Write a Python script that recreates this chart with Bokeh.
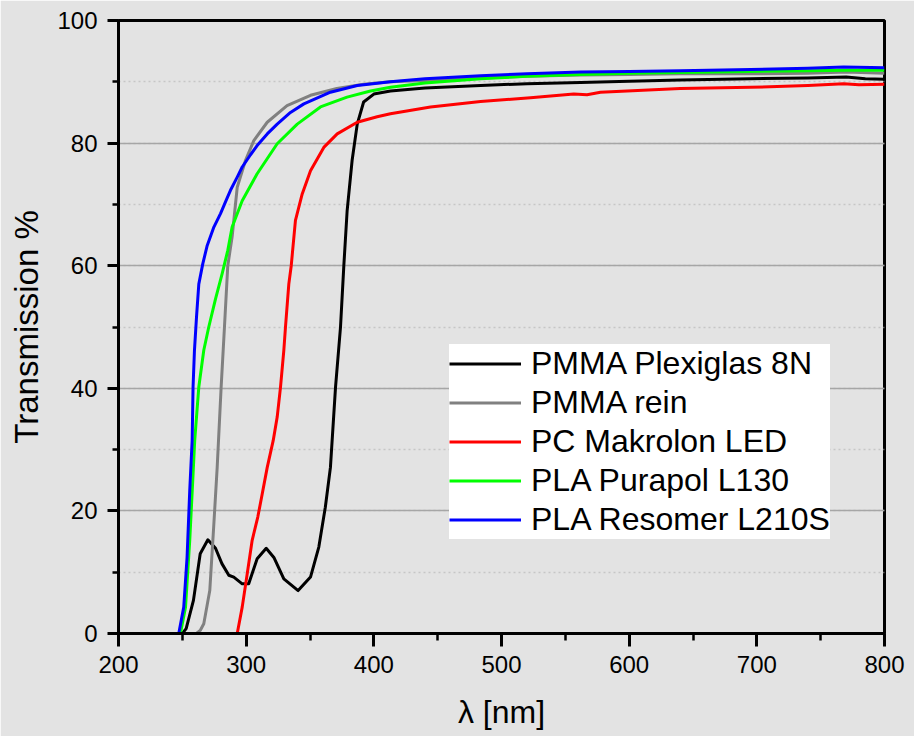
from bokeh.plotting import figure
from bokeh.models import Legend, LegendItem, SingleIntervalTicker, Range1d
from bokeh.embed import file_html
from bokeh.resources import INLINE

# ---- data ----
pmma8n_x = [200, 250, 253, 258.7, 264, 270, 276, 281, 286.4, 290.3, 296.9, 302, 308.6, 315.7,
            321.7, 329.5, 340.7, 350.4, 356.9, 362, 366, 370, 373.9, 376.5, 379.1, 383, 387,
            392, 400, 413, 440, 483.6, 520, 562, 600, 640, 695, 740, 770, 785, 800]
pmma8n_y = [0, 0, 0.8, 5.4, 13, 15.3, 13.9, 11.4, 9.5, 9.2, 8.1, 8.1, 12.2, 13.9,
            12.4, 8.9, 7.0, 9.2, 14.1, 20.6, 27.1, 40.2, 50, 60, 69, 77.2, 83.1,
            86.7, 88, 88.5, 89.0, 89.4, 89.7, 89.9, 90.1, 90.3, 90.5, 90.6, 90.8, 90.5, 90.4]

pmmarein_x = [200, 261, 264, 266.8, 271.5, 274.7, 277.3, 280.4, 283, 285.6, 289, 293, 299.5,
              306, 316.5, 332, 350.4, 371, 392, 413, 450, 483.6, 520, 562, 600, 640, 695,
              740, 770, 800]
pmmarein_y = [0, 0, 0.5, 1.6, 7, 17.9, 27.1, 40.2, 50, 60, 64.7, 72.8, 77.2,
              80.4, 83.4, 86.1, 87.8, 88.9, 89.6, 90.0, 90.3, 90.6, 90.9, 91.1, 91.2, 91.3, 91.3,
              91.4, 91.6, 91.4]

pc_x = [200, 293, 296.9, 300.8, 304.7, 309.1, 312.6, 316.5, 321.2, 324.3, 326.9, 329.5, 330.8,
        333.4, 335.3, 338.6, 343.9, 350.4, 360.8, 371.3, 387, 402.6, 413, 444.4, 483.6, 522.7,
        556.6, 567, 577.5, 640, 695, 740, 768, 780, 800]
pc_y = [0, 0, 4.3, 9.7, 15.2, 19, 22.8, 27.1, 31.5, 35.3, 40.2, 46.2, 50,
        57, 60, 67.4, 71.7, 75.5, 79.3, 81.5, 83.4, 84.3, 84.8, 85.9, 86.8, 87.4,
        88.0, 87.9, 88.3, 88.9, 89.1, 89.4, 89.7, 89.5, 89.6]

pla130_x = [200, 248.5, 252.5, 255.8, 258.4, 259.7, 262.9, 266.8, 270.7, 276, 281.2, 285.6, 289,
            296.9, 308.6, 324.3, 340, 358.2, 379, 397.4, 413, 440, 483.6, 520, 562, 600, 640,
            695, 740, 770, 800]
pla130_y = [0, 0, 4.3, 15.2, 26, 31.5, 40.2, 46.2, 50, 54.6, 58.7, 62.5, 66.3,
            70.6, 75, 79.9, 83.1, 85.9, 87.5, 88.5, 89.1, 89.8, 90.5, 90.9, 91.2, 91.4, 91.5,
            91.7, 91.8, 91.9, 91.9]

pla210_x = [200, 247.2, 251.1, 253.7, 255.8, 257.7, 258.4, 259.5, 261.1, 262.9, 266, 269.5, 274.7,
            279.9, 283.8, 287.7, 292.9, 296.9, 303.4, 308.6, 316.5, 324.3, 334.7, 345.2, 366, 387,
            413, 440, 483.6, 520, 562, 600, 640, 695, 740, 768, 800]
pla210_y = [0, 0, 4.3, 12.4, 23.3, 31.5, 40.2, 46.2, 51.6, 57, 60.3, 63.3, 66.3,
            68.5, 70.4, 72.3, 74.4, 76.1, 78.1, 79.6, 81.5, 83.1, 85.0, 86.4, 88.3, 89.4,
            90.0, 90.5, 91.0, 91.3, 91.6, 91.7, 91.8, 92.0, 92.2, 92.4, 92.3]

names = ["PMMA Plexiglas 8N", "PMMA rein", "PC Makrolon LED", "PLA Purapol L130", "PLA Resomer L210S"]
colors = ["#000000", "#808080", "#ff0000", "#00ff00", "#0000ff"]
series = [(pmma8n_x, pmma8n_y), (pmmarein_x, pmmarein_y), (pc_x, pc_y),
          (pla130_x, pla130_y), (pla210_x, pla210_y)]

x_title = "λ [nm]"
y_title = "Transmission %"

BG = "#e3e3e3"
FONT = "Liberation Sans"

p = figure(width=914, height=736, output_backend="svg", toolbar_location=None,
           x_range=Range1d(200, 800), y_range=Range1d(0, 100),
           min_border_left=118, min_border_right=30, min_border_top=20, min_border_bottom=103,
           x_axis_label=x_title, y_axis_label=y_title)
p.background_fill_color = BG
p.border_fill_color = BG
p.outline_line_color = "black"
p.outline_line_width = 3

p.xaxis.ticker = SingleIntervalTicker(interval=100, num_minor_ticks=2)
p.yaxis.ticker = SingleIntervalTicker(interval=20, num_minor_ticks=2)

for ax in (p.xaxis[0], p.yaxis[0]):
    ax.axis_line_width = 3
    ax.axis_line_color = "black"
    ax.major_tick_line_width = 3
    ax.minor_tick_line_width = 2.5
    ax.major_tick_line_color = "black"
    ax.minor_tick_line_color = "black"
    ax.major_tick_in = 0
    ax.minor_tick_in = 0
    ax.major_label_text_font = FONT
    ax.major_label_text_font_size = "24px"
    ax.major_label_text_color = "black"
    ax.axis_label_text_font = FONT
    ax.axis_label_text_font_size = "33px"
    ax.axis_label_text_font_style = "normal"
    ax.axis_label_text_color = "black"

p.xaxis.axis_label_text_font_size = "32px"
p.xaxis.major_tick_out = 13
p.xaxis.minor_tick_out = 7
p.xaxis.major_label_standoff = 9
p.xaxis.axis_label_standoff = 18
p.yaxis.major_tick_out = 11
p.yaxis.minor_tick_out = 6
p.yaxis.major_label_standoff = 10
p.yaxis.axis_label_standoff = 9

p.xgrid.visible = False
p.ygrid.grid_line_color = "#a6a6a6"
p.ygrid.grid_line_width = 1.5
p.ygrid.minor_grid_line_color = "#c6c6c6"
p.ygrid.minor_grid_line_width = 1.5
p.ygrid.minor_grid_line_dash = "2 3"

items = []
for (xs, ys), name, c in zip(series, names, colors):
    r = p.line(xs, ys, line_color=c, line_width=3, line_join="round")
    items.append(LegendItem(label=name, renderers=[r]))

legend = Legend(items=items, location=(331, 94), orientation="vertical",
                background_fill_color="white", background_fill_alpha=1.0,
                border_line_alpha=0, padding=0, margin=0, spacing=0,
                glyph_width=72, glyph_height=39, label_height=39, label_standoff=10,
                label_text_font=FONT, label_text_font_size="32px", label_text_color="black")
p.add_layout(legend, "center")

open("out.html", "w").write(file_html(p, INLINE))
